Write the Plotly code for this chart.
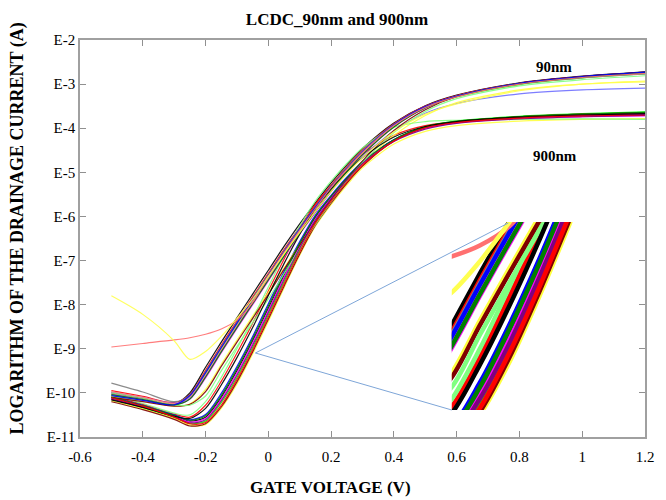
import plotly.graph_objects as go

# ---------------- data (log10 of drain current, A) ----------------
gate_v = [-0.5, -0.4, -0.3, -0.25, -0.2, -0.15, -0.1, -0.05, 0.0, 0.05, 0.1,
          0.15, 0.2, 0.25, 0.3, 0.4, 0.5, 0.6, 0.8, 1.0, 1.2]

curves_90nm = [
    [-10.00, -10.12, -10.25, -10.00, -9.42, -8.85, -8.30, -7.76, -7.22, -6.68, -6.17, -5.69, -5.24, -4.83, -4.46, -3.88, -3.49, -3.25, -2.97, -2.82, -2.72],
    [-9.95, -10.08, -10.22, -10.04, -9.49, -8.92, -8.37, -7.83, -7.29, -6.75, -6.24, -5.75, -5.29, -4.87, -4.49, -3.90, -3.50, -3.26, -2.98, -2.83, -2.74],
    [-10.05, -10.16, -10.28, -10.08, -9.56, -8.99, -8.44, -7.90, -7.36, -6.82, -6.30, -5.81, -5.35, -4.93, -4.55, -3.94, -3.53, -3.29, -3.01, -2.86, -2.77],
    [-9.98, -10.10, -10.23, -10.10, -9.62, -9.05, -8.50, -7.96, -7.42, -6.88, -6.37, -5.89, -5.43, -5.02, -4.65, -4.06, -3.66, -3.44, -3.22, -3.13, -3.09],
    [-10.08, -10.18, -10.30, -10.25, -9.92, -9.35, -8.80, -8.26, -7.72, -7.17, -6.64, -6.14, -5.66, -5.22, -4.82, -4.16, -3.71, -3.42, -3.13, -3.00, -2.95],
    [-10.03, -10.15, -10.26, -10.14, -9.66, -9.09, -8.54, -8.00, -7.46, -6.92, -6.40, -5.91, -5.43, -5.00, -4.60, -3.97, -3.54, -3.28, -2.99, -2.84, -2.75],
    [-9.78, -9.98, -10.20, -10.05, -9.52, -8.95, -8.40, -7.86, -7.32, -6.78, -6.26, -5.77, -5.31, -4.89, -4.51, -3.91, -3.51, -3.27, -3.00, -2.86, -2.77],
    [-10.10, -10.20, -10.30, -10.26, -9.97, -9.40, -8.85, -8.31, -7.77, -7.20, -6.65, -6.12, -5.62, -5.16, -4.74, -4.05, -3.58, -3.28, -2.98, -2.83, -2.73],
    [-10.00, -10.12, -10.27, -10.28, -10.07, -9.50, -8.95, -8.41, -7.87, -7.30, -6.73, -6.18, -5.67, -5.20, -4.78, -4.10, -3.62, -3.33, -3.04, -2.90, -2.81],
    [-9.97, -10.10, -10.24, -10.09, -9.59, -9.02, -8.47, -7.93, -7.39, -6.85, -6.33, -5.84, -5.37, -4.95, -4.56, -3.94, -3.52, -3.27, -2.99, -2.84, -2.76],
    [-10.04, -10.15, -10.27, -10.14, -9.64, -9.07, -8.52, -7.98, -7.44, -6.90, -6.38, -5.89, -5.42, -4.99, -4.60, -3.97, -3.54, -3.28, -2.99, -2.84, -2.74],
    [-10.06, -10.17, -10.27, -10.06, -9.54, -8.97, -8.42, -7.88, -7.34, -6.80, -6.28, -5.79, -5.33, -4.91, -4.53, -3.92, -3.51, -3.27, -2.98, -2.83, -2.73],
]
colors_90nm = ['#000000', '#ff0000', '#00ff00', '#7070ff', '#ffff40', '#ff00ff',
               '#808080', '#800000', '#80ff80', '#ff8080', '#008000', '#0000ff']

curves_900nm = [
    [-10.12, -10.30, -10.52, -10.64, -10.55, -10.10, -9.50, -8.82, -8.08, -7.34, -6.64, -6.02, -5.56, -5.14, -4.78, -4.26, -3.98, -3.86, -3.76, -3.71, -3.68],
    [-10.08, -10.26, -10.48, -10.55, -10.28, -9.74, -9.10, -8.42, -7.69, -6.97, -6.30, -5.72, -5.30, -4.92, -4.60, -4.16, -3.94, -3.86, -3.77, -3.72, -3.69],
    [-10.15, -10.34, -10.56, -10.70, -10.64, -10.22, -9.65, -8.97, -8.23, -7.48, -6.76, -6.12, -5.64, -5.20, -4.82, -4.27, -3.97, -3.84, -3.73, -3.67, -3.63],
    [-10.10, -10.28, -10.50, -10.61, -10.49, -10.01, -9.40, -8.72, -7.98, -7.25, -6.57, -5.97, -5.52, -5.11, -4.76, -4.26, -3.99, -3.87, -3.77, -3.72, -3.69],
    [-10.18, -10.36, -10.58, -10.73, -10.72, -10.35, -9.80, -9.12, -8.38, -7.62, -6.88, -6.22, -5.73, -5.29, -4.90, -4.36, -4.07, -3.94, -3.84, -3.80, -3.78],
    [-10.13, -10.31, -10.53, -10.66, -10.58, -10.14, -9.55, -8.87, -8.13, -7.38, -6.68, -6.05, -5.58, -5.16, -4.80, -4.28, -4.00, -3.88, -3.78, -3.74, -3.72],
    [-10.05, -10.24, -10.46, -10.50, -10.20, -9.65, -9.00, -8.32, -7.60, -6.88, -6.22, -5.65, -5.20, -4.80, -4.45, -3.98, -3.85, -3.82, -3.80, -3.79, -3.80],
    [-10.20, -10.38, -10.60, -10.75, -10.70, -10.32, -9.75, -9.07, -8.33, -7.58, -6.85, -6.20, -5.70, -5.25, -4.86, -4.29, -3.98, -3.85, -3.74, -3.68, -3.65],
    [-10.10, -10.29, -10.51, -10.62, -10.52, -10.06, -9.45, -8.77, -8.03, -7.30, -6.61, -6.00, -5.54, -5.13, -4.77, -4.26, -3.97, -3.84, -3.74, -3.68, -3.64],
    [-10.14, -10.32, -10.54, -10.68, -10.61, -10.18, -9.60, -8.92, -8.18, -7.43, -6.72, -6.08, -5.60, -5.17, -4.80, -4.30, -4.02, -3.89, -3.79, -3.74, -3.71],
    [-10.16, -10.33, -10.53, -10.58, -10.35, -9.82, -9.20, -8.52, -7.79, -7.07, -6.40, -5.82, -5.38, -4.99, -4.67, -4.20, -3.96, -3.85, -3.75, -3.70, -3.67],
    [-10.11, -10.30, -10.55, -10.70, -10.67, -10.28, -9.70, -9.02, -8.28, -7.53, -6.80, -6.15, -5.66, -5.22, -4.84, -4.29, -3.99, -3.87, -3.77, -3.72, -3.70],
]
colors_900nm = ['#000000', '#ff0000', '#00ff00', '#0000ff', '#ffff40', '#ff00ff',
                '#80ff80', '#800000', '#008000', '#800080', '#000000', '#ff0000']

leaky_red = [-8.96, -8.88, -8.80, -8.75, -8.67, -8.55, -8.35, -7.95, -7.36, -6.82, -6.31, -5.82, -5.34, -4.93, -4.55, -3.94, -3.53, -3.29, -3.00, -2.85, -2.76]
leaky_yellow = [-7.80, -8.22, -8.82, -9.24, -9.06, -8.72, -8.31, -7.88, -7.36, -6.85, -6.36, -5.89, -5.43, -5.03, -4.67, -4.08, -3.68, -3.45, -3.15, -3.00, -2.93]

x_ticks = [-0.6, -0.4, -0.2, 0, 0.2, 0.4, 0.6, 0.8, 1.0, 1.2]
x_tick_text = ['-0.6', '-0.4', '-0.2', '0', '0.2', '0.4', '0.6', '0.8', '1', '1.2']
y_exponents = [-2, -3, -4, -5, -6, -7, -8, -9, -10, -11]
y_tick_text = ['E' + str(e) for e in y_exponents]

zoom_box_v = [-0.19, -0.044]
zoom_box_log = [-9.98, -8.28]
inset_v_range = [-0.198, 0.009]
inset_log_range = [-10.3, -8.3]

# ---------------- figure ----------------
serif = 'Liberation Serif, Times New Roman, serif'
fig = go.Figure()

series = []
for i in range(len(curves_90nm)):
    series.append((curves_900nm[i], colors_900nm[i]))
    series.append((curves_90nm[i], colors_90nm[i]))
series.append((leaky_red, '#ff7070'))
series.append((leaky_yellow, '#ffff50'))

for vals, col in series:
    amps = [10 ** v for v in vals]
    fig.add_trace(go.Scatter(x=gate_v, y=amps, mode='lines',
                             line=dict(color=col, width=1.2, shape='spline', smoothing=0.8),
                             opacity=0.9, showlegend=False, hoverinfo='skip', xaxis='x', yaxis='y'))
for vals, col in series:
    amps = [10 ** v for v in vals]
    fig.add_trace(go.Scatter(x=gate_v, y=amps, mode='lines',
                             line=dict(color=col, width=4.5, shape='spline', smoothing=0.8),
                             showlegend=False, hoverinfo='skip', xaxis='x2', yaxis='y2'))

axis_font = dict(family=serif, size=15, color='#000000')
fig.update_layout(
    width=658, height=492,
    margin=dict(l=72, r=16, t=32, b=63),
    paper_bgcolor='white', plot_bgcolor='white',
    xaxis=dict(range=[-0.6, 1.2], tickvals=x_ticks, ticktext=x_tick_text, ticks='inside', ticklen=6,
               tickcolor='#909090', showline=True, linecolor='#a0a0a0', linewidth=1.5, mirror='ticks',
               showgrid=False, zeroline=False, tickfont=axis_font, ticklabelstandoff=5, domain=[0, 1]),
    yaxis=dict(type='log', range=[-11, -2], tickvals=[10 ** e for e in y_exponents], ticktext=y_tick_text,
               ticks='inside', ticklen=6, tickcolor='#909090', showline=True, linecolor='#a0a0a0', linewidth=1.5,
               mirror='ticks', showgrid=False, zeroline=False, tickfont=axis_font, domain=[0, 1]),
    xaxis2=dict(range=inset_v_range, domain=[0.658, 0.872], anchor='y2', visible=False),
    yaxis2=dict(type='log', range=inset_log_range, domain=[0.068, 0.5416], anchor='x2', visible=False),
    title=dict(text='<b>LCDC_90nm and 900nm</b>', x=0.5, xref='container', y=0.9776, yref='container',
               yanchor='middle', xanchor='center', font=dict(family=serif, size=17, color='#000000')),
)

fig.add_shape(type='rect', xref='x', yref='y', x0=zoom_box_v[0], x1=zoom_box_v[1],
              y0=zoom_box_log[0], y1=zoom_box_log[1], line=dict(color='#3f5f85', width=2))
fig.add_shape(type='line', xref='paper', yref='paper', x0=0.3105, y0=0.2116, x1=0.758, y1=0.539,
              line=dict(color='#7ea6d8', width=1))
fig.add_shape(type='line', xref='paper', yref='paper', x0=0.3105, y0=0.2116, x1=0.658, y1=0.068,
              line=dict(color='#7ea6d8', width=1))

fig.add_annotation(text='<b>GATE VOLTAGE (V)</b>', xref='paper', yref='paper', x=0.444, y=-0.126,
                   showarrow=False, font=dict(family=serif, size=17, color='#000000'),
                   xanchor='center', yanchor='middle')
fig.add_annotation(text='<b>LOGARITHM OF THE DRAINAGE CURRENT (A)</b>', xref='paper', yref='paper',
                   x=-0.1105, y=0.524, textangle=-90, showarrow=False,
                   font=dict(family=serif, size=18, color='#000000'), xanchor='center', yanchor='middle')
fig.add_annotation(text='<b>90nm</b>', xref='paper', yref='paper', x=0.874, y=0.957, showarrow=False,
                   font=dict(family=serif, size=15, color='#000000'))
fig.add_annotation(text='<b>900nm</b>', xref='paper', yref='paper', x=0.8825, y=0.733, showarrow=False,
                   font=dict(family=serif, size=15, color='#000000'))

fig.write_html('out.html')
